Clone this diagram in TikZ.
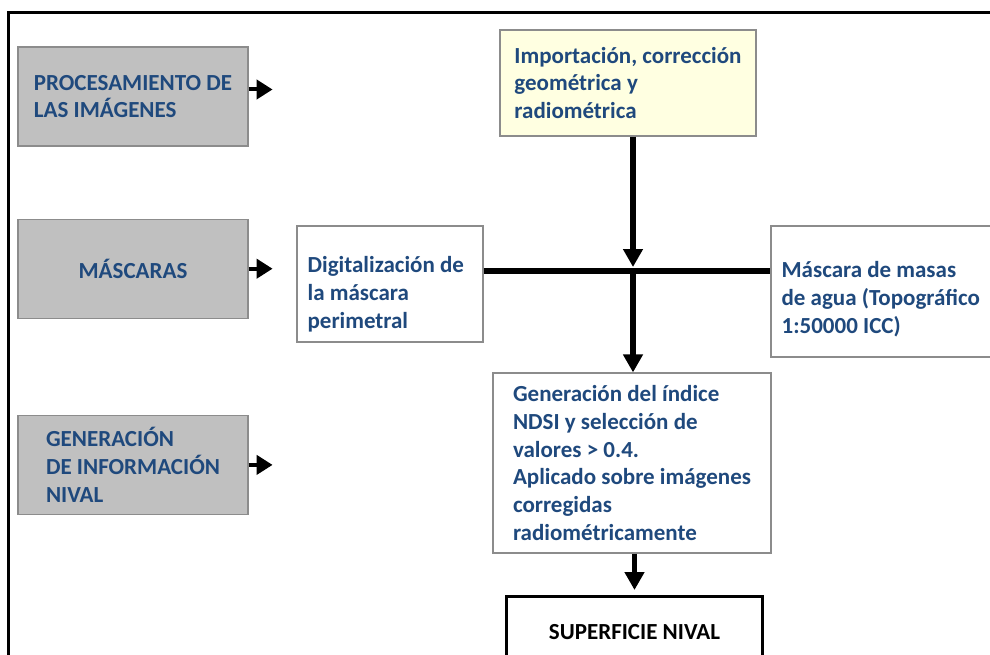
\documentclass[tikz,border=0pt]{standalone}
\usepackage{fontspec}
\setmainfont{Carlito}
\usepackage{xcolor}
\definecolor{textblue}{RGB}{31, 73, 125}
\definecolor{boxgray}{RGB}{192, 192, 192}
\definecolor{edgegray}{RGB}{140, 140, 140}
\definecolor{paleyellow}{RGB}{255, 255, 225}
\usepackage{tikz}
\usetikzlibrary{arrows.meta, positioning}

\begin{document}
\begin{tikzpicture}[x=1pt, y=-1pt,
        txt/.style={font=\fontsize{23}{27.8}\selectfont\bfseries, text=textblue, align=left},
        fase/.style={txt, rectangle, draw=edgegray, fill=boxgray, line width=1.2pt, minimum width=230pt, minimum height=99pt},
        paso/.style={rectangle, draw=edgegray, fill=white, line width=1.2pt},
        pasotxt/.style={txt, inner sep=0pt},
        final/.style={rectangle, draw=black, line width=3pt, minimum width=256pt, minimum height=72pt, font=\fontsize{23}{27.8}\selectfont\bfseries, text=black},
        flecha/.style={draw=black, line width=4pt, -{Triangle[length=16pt, width=19pt]}},
        line/.style={draw=black, line width=5.5pt, -{Triangle[length=18pt, width=19pt]}},
        barra/.style={draw=black, line width=5.5pt}]

    \clip (0,0) rectangle (990,655);

    % Marco
    \draw[line width=3pt] (8.5,670) -- (8.5,12.5) -- (1000,12.5);

    % Columna de fases
    \node [fase] (proc) at (133,96.5) {PROCESAMIENTO DE\\LAS IMÁGENES};
    \node [fase, below=72pt of proc] (masc) {MÁSCARAS};
    \node [fase, below=96pt of masc] (gen) {GENERACIÓN\\DE INFORMACIÓN\\NIVAL};

    \coordinate (procfin) at ([xshift=24pt, yshift=7pt]proc.east);
    \coordinate (mascfin) at ([xshift=24pt]masc.east);
    \coordinate (genfin) at ([xshift=24pt]gen.east);
    \draw[flecha] (proc.east |- procfin) -- (procfin);
    \draw[flecha] (masc.east) -- (mascfin);
    \draw[flecha] (gen.east) -- (genfin);

    % Flujo de procesos
    \node [paso, txt, fill=paleyellow, minimum width=256pt, minimum height=106pt] (import) at (628,83) {Importación, corrección\\geométrica y\\radiométrica};

    \node [paso, minimum width=186pt, minimum height=116pt] (digit) at (390,284) {};
    \node [pasotxt, anchor=west] (digitxt) at ([xshift=11pt, yshift=-10pt]digit.west) {Digitalización de\\la máscara\\perimetral};

    \node [paso, minimum width=239pt, minimum height=131pt] (agua) at (890.5,291.5) {};
    \node [pasotxt, anchor=west] (aguatxt) at ([xshift=11pt, yshift=-7.5pt]agua.west) {Máscara de masas\\de agua (Topográfico\\1:50000 ICC)};

    \node [paso, txt, minimum width=278pt, minimum height=180pt] (ndsi) at (632,463) {Generación del índice\\NDSI y selección de\\valores > 0.4.\\Aplicado sobre imágenes\\corregidas\\radiométricamente};

    \node [final] (sup) at (634.5,632.5) {SUPERFICIE NIVAL};

    % Conexiones
    \coordinate (cruce) at (633,271);
    \draw[barra] (digit.east |- cruce) -- (cruce -| agua.west);
    \draw[line, shorten >=4pt] (import.south -| cruce) -- (cruce);
    \draw[line] (cruce) -- (ndsi.north -| cruce);
    \draw[line, shorten >=5pt] (ndsi.south -| sup.north) -- (sup.north);
\end{tikzpicture}
\end{document}
